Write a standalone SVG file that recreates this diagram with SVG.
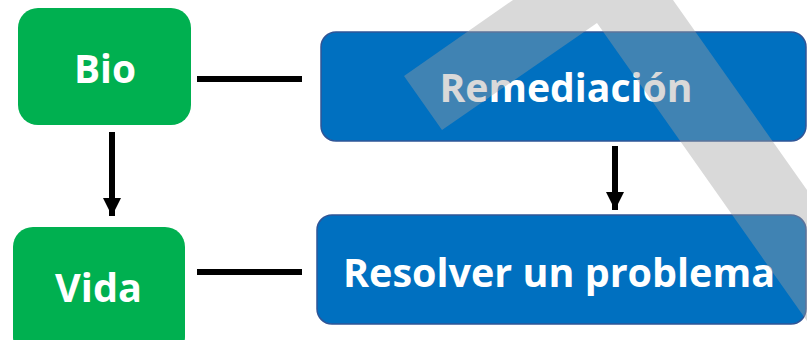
<svg xmlns="http://www.w3.org/2000/svg" width="807" height="340" viewBox="0 0 807 340">
<defs>
<style>
.g{fill:#00B050}
.b{fill:#0070C0;stroke:#2F5597;stroke-width:1.5}
.t{fill:#FFFFFF;font-family:"Open Sans","DejaVu Sans",sans-serif;font-weight:bold;font-size:40px;text-anchor:middle}
.c{stroke:#000000;stroke-width:6;fill:none}
</style>
<marker id="ah" markerUnits="userSpaceOnUse" markerWidth="18" markerHeight="18" refX="18" refY="9" orient="auto">
<path d="M0,0 L18,9 L0,18 Z" fill="#000000"/>
</marker>
</defs>
<rect width="807" height="340" fill="#FFFFFF"/>
<g id="bio"><rect class="g" x="18" y="8" width="173" height="117" rx="20"/><text class="t" x="105" y="83" textLength="62" lengthAdjust="spacingAndGlyphs">Bio</text></g>
<g id="vida"><rect class="g" x="13" y="227" width="172" height="130" rx="20"/><text class="t" x="98.5" y="302" textLength="87" lengthAdjust="spacingAndGlyphs">Vida</text></g>
<g id="remediacion"><rect class="b" x="321" y="32" width="485" height="109" rx="15"/><text class="t" x="566" y="102" textLength="253" lengthAdjust="spacingAndGlyphs">Remediación</text></g>
<g id="resolver"><rect class="b" x="317" y="215" width="489" height="109" rx="15"/><text class="t" x="559" y="287" textLength="432" lengthAdjust="spacingAndGlyphs">Resolver un problema</text></g>
<g id="connectors">
<line class="c" x1="197" y1="79" x2="302" y2="79"/>
<line class="c" x1="197" y1="272" x2="302" y2="272"/>
<line class="c" x1="112" y1="132" x2="112" y2="216" marker-end="url(#ah)"/>
<line class="c" x1="615" y1="146" x2="615" y2="210" marker-end="url(#ah)"/>
</g>
<polygon points="404,76 513,0 673,0 807,190 807,321 597,23 442,130" fill="#A0A0A0" fill-opacity="0.4"/>
</svg>
